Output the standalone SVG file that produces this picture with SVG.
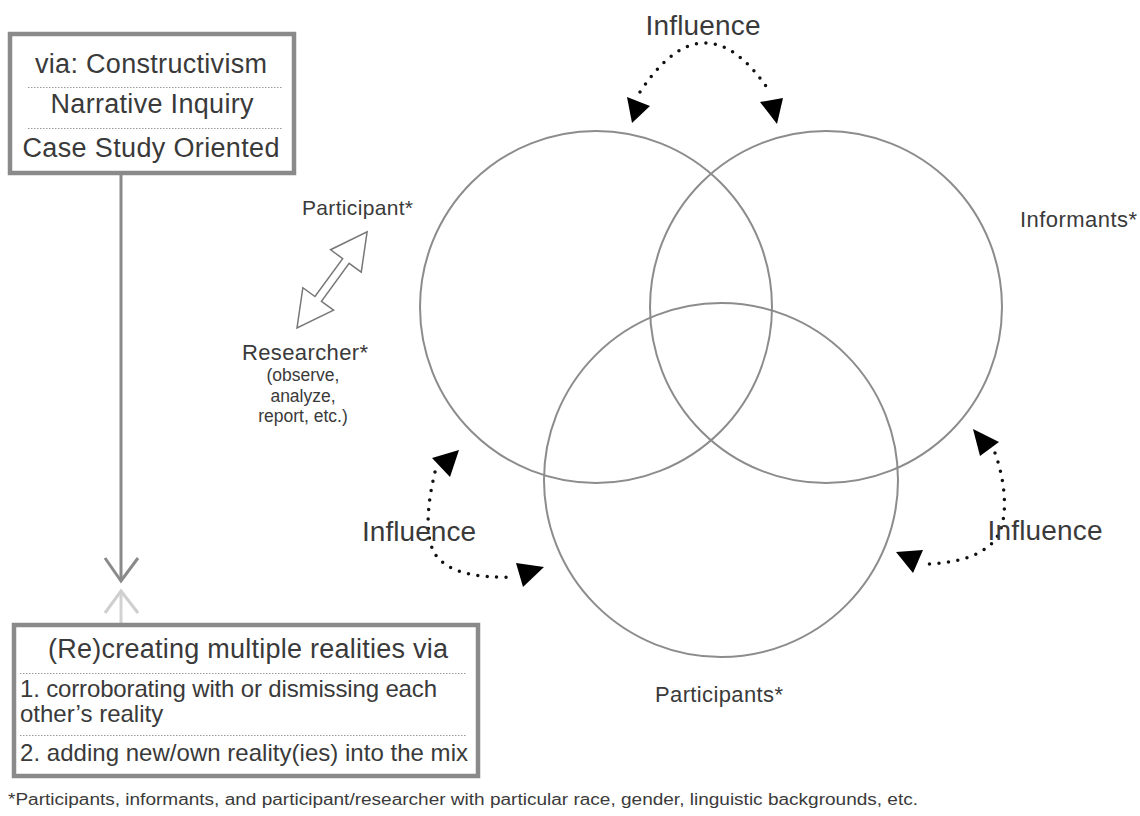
<svg xmlns="http://www.w3.org/2000/svg" width="1140" height="816" viewBox="0 0 1140 816">
<style>
.t{font-family:"Liberation Sans",Arial,sans-serif;fill:#3a3a3a}
.box{fill:#fff;stroke:#8a8a8a;stroke-width:4.5}
.sep{stroke:#9a9a9a;stroke-width:1;stroke-dasharray:1.5 1.5}
.circ{fill:none;stroke:#8c8c8c;stroke-width:2}
.dots{fill:none;stroke:#111;stroke-width:3.5;stroke-linecap:round;stroke-dasharray:0 9.5}
.head{fill:#000}
</style>
<rect width="1140" height="816" fill="#fff"/>
<g id="connectors">
  <line x1="121" y1="175" x2="121" y2="581" stroke="#8a8a8a" stroke-width="3"/>
  <polyline points="105,558 121,581 138,558" fill="none" stroke="#8a8a8a" stroke-width="3"/>
  <line x1="121" y1="591" x2="121" y2="645" stroke="#d2d2d2" stroke-width="3"/>
  <polyline points="105,613 121,591 138,613" fill="none" stroke="#cfcfcf" stroke-width="3"/>
  <path class="dots" d="M640,92 Q705,-6 770,92"/>
  <polygon class="head" points="627,97 650,106 632,123"/>
  <polygon class="head" points="760,102 783,98 777,124"/>
  <path class="dots" d="M435,472 C427,505 423,545 440,560 C455,574 480,578 512,577"/>
  <polygon class="head" points="432,458 459,450 450,477"/>
  <polygon class="head" points="516,563 544,567 523,587"/>
  <path class="dots" d="M995,453 C1005,480 1010,520 995,540 C980,558 950,564 923,564"/>
  <polygon class="head" points="973,429 999,442 980,456"/>
  <polygon class="head" points="896,552 923,550 913,573"/>
  <polygon transform="translate(297,328) rotate(-53.9)" points="0,0 36,-19 36,-4 83,-4 83,-19 119,0 83,19 83,4 36,4 36,19" fill="#fff" stroke="#777" stroke-width="1.5" stroke-linejoin="miter"/>
</g>
<g id="top-box">
  <rect class="box" x="10" y="34" width="284" height="139"/>
  <line class="sep" x1="28" y1="87.5" x2="283" y2="87.5"/>
  <line class="sep" x1="28" y1="128.5" x2="283" y2="128.5"/>
  <text class="t" x="151" y="73" font-size="27" text-anchor="middle" textLength="232">via: Constructivism</text>
  <text class="t" x="152" y="113" font-size="27" text-anchor="middle" textLength="203">Narrative Inquiry</text>
  <text class="t" x="151" y="157" font-size="27" text-anchor="middle" textLength="257">Case Study Oriented</text>
</g>
<g id="bottom-box">
  <rect class="box" x="14" y="625" width="464" height="151"/>
  <line class="sep" x1="20" y1="673.5" x2="467" y2="673.5"/>
  <line class="sep" x1="20" y1="735.5" x2="467" y2="735.5"/>
  <text class="t" x="248" y="658" font-size="27" text-anchor="middle" textLength="400">(Re)creating multiple realities via</text>
  <text class="t" x="20" y="697" font-size="24" textLength="417">1. corroborating with or dismissing each</text>
  <text class="t" x="20" y="722" font-size="24">other’s reality</text>
  <text class="t" x="20" y="761" font-size="24" textLength="448">2. adding new/own reality(ies) into the mix</text>
</g>
<g id="circle-participant">
  <circle class="circ" cx="596" cy="307" r="176"/>
</g>
<g id="circle-informants">
  <circle class="circ" cx="826" cy="307" r="176"/>
</g>
<g id="circle-participants">
  <circle class="circ" cx="721" cy="480" r="177"/>
</g>
<g id="influence-top">
  <text class="t" x="703" y="35" font-size="28" text-anchor="middle" textLength="115">Influence</text>
</g>
<g id="influence-left">
  <text class="t" x="419" y="541" font-size="28" text-anchor="middle" textLength="114">Influence</text>
</g>
<g id="influence-right">
  <text class="t" x="1045" y="540" font-size="28" text-anchor="middle" textLength="115">Influence</text>
</g>
<g id="participant-label">
  <text class="t" x="302" y="215" font-size="21" textLength="111">Participant*</text>
</g>
<g id="researcher-label">
  <text class="t" x="242" y="360" font-size="22" textLength="126">Researcher*</text>
  <text class="t" x="303" y="381" font-size="17.5" text-anchor="middle">(observe,</text>
  <text class="t" x="303" y="402" font-size="17.5" text-anchor="middle">analyze,</text>
  <text class="t" x="303" y="422" font-size="17.5" text-anchor="middle">report, etc.)</text>
</g>
<g id="informants-label">
  <text class="t" x="1020" y="227" font-size="22" textLength="117">Informants*</text>
</g>
<g id="participants-label">
  <text class="t" x="655" y="702" font-size="22" textLength="128">Participants*</text>
</g>
<g id="footnote">
  <text class="t" x="8" y="805" font-size="16" textLength="910" lengthAdjust="spacingAndGlyphs">*Participants, informants, and participant/researcher with particular race, gender, linguistic backgrounds, etc.</text>
</g>
</svg>
